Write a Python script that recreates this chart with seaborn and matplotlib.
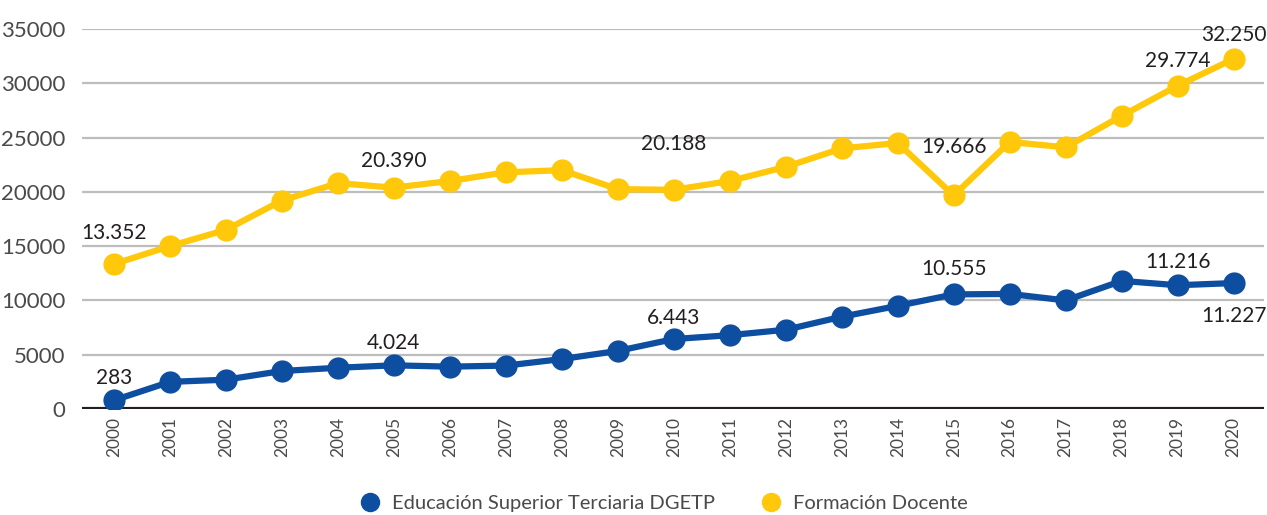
"""
Matrícula: Educación Superior Terciaria DGETP vs Formación Docente, 2000-2020.
"""

import pandas as pd
import matplotlib.pyplot as plt
import seaborn as sns
from matplotlib.lines import Line2D

years = list(range(2000, 2021))
dgetp = [800, 2500, 2700, 3500, 3800, 4024, 3900, 4000, 4600, 5350, 6443,
         6800, 7300, 8500, 9500, 10555, 10600, 10000, 11800, 11400, 11600]
docente = [13352, 15000, 16500, 19200, 20800, 20390, 21000, 21800, 22000, 20250,
           20188, 21000, 22300, 24000, 24500, 19666, 24600, 24100, 27000, 29774, 32250]

series_names = ["Educación Superior Terciaria DGETP", "Formación Docente"]
colors = ["#0D4EA0", "#FFC80A"]

# labelled points: (year, text) per series
dgetp_labels = [(2000, "283"), (2005, "4.024"), (2010, "6.443"), (2015, "10.555"),
                (2019, "11.216"), (2020, "11.227")]
docente_labels = [(2000, "13.352"), (2005, "20.390"), (2010, "20.188"), (2015, "19.666"),
                  (2019, "29.774"), (2020, "32.250")]

# label offsets in points (dx, dy)
dgetp_offsets = {2000: (0, 16), 2005: (0, 16), 2010: (0, 15), 2015: (0, 18),
                 2019: (0, 17), 2020: (0, -24)}
docente_offsets = {2000: (0, 22), 2005: (0, 19), 2010: (0, 33), 2015: (0, 35),
                   2019: (0, 18), 2020: (0, 17)}


def main():
    sns.set_theme(style="white")
    plt.rcParams["font.family"] = ["Lato", "DejaVu Sans"]

    df = pd.DataFrame({"Año": years * 2,
                       "Valor": dgetp + docente,
                       "Serie": [series_names[0]] * len(years) + [series_names[1]] * len(years)})

    fig = plt.figure(figsize=(12.67, 5.15), dpi=100)
    ax = fig.add_axes([0.0647, 0.2058, 0.9333, 0.7379])

    for yv in range(5000, 35001, 5000):
        ax.axhline(yv, color="#BDBDBD", lw=1.6, zorder=0)
    ax.axhline(0, color="#231F20", lw=3, zorder=1)

    sns.lineplot(data=df, x="Año", y="Valor", hue="Serie", palette=colors,
                 marker="o", markersize=16, markeredgewidth=0, linewidth=4.5,
                 legend=False, ax=ax, zorder=3)

    for labels, offsets, vals in [(dgetp_labels, dgetp_offsets, dgetp),
                                  (docente_labels, docente_offsets, docente)]:
        for yr, txt in labels:
            dx, dy = offsets[yr]
            ax.annotate(txt, (yr, vals[years.index(yr)]), xytext=(dx, dy),
                        textcoords="offset points", ha="center", va="center",
                        fontsize=15, color="#231F20")

    ax.set_xlim(1999.43, 2020.55)
    ax.set_ylim(0, 35000)
    ax.set_xticks(years)
    ax.set_xticklabels([str(y) for y in years], rotation=90, fontsize=12.5, color="#4A4A4A")
    ax.set_yticks(range(0, 35001, 5000))
    ax.set_yticklabels([str(v) for v in range(0, 35001, 5000)], fontsize=16, color="#4A4A4A")
    ax.tick_params(axis="both", length=0, pad=6)
    ax.tick_params(axis="y", pad=12)
    ax.set_xlabel("")
    ax.set_ylabel("")
    sns.despine(ax=ax, left=True, bottom=True)

    handles = [Line2D([], [], marker="o", color=c, linestyle="", markersize=13) for c in colors]
    fig.legend(handles, series_names, loc="lower center", ncol=2, frameon=False,
               fontsize=14.5, handletextpad=0.1, columnspacing=1.8,
               bbox_to_anchor=(0.52, -0.03), labelcolor="#4A4A4A")

    fig.savefig("out.png", dpi=100)


if __name__ == "__main__":
    main()
